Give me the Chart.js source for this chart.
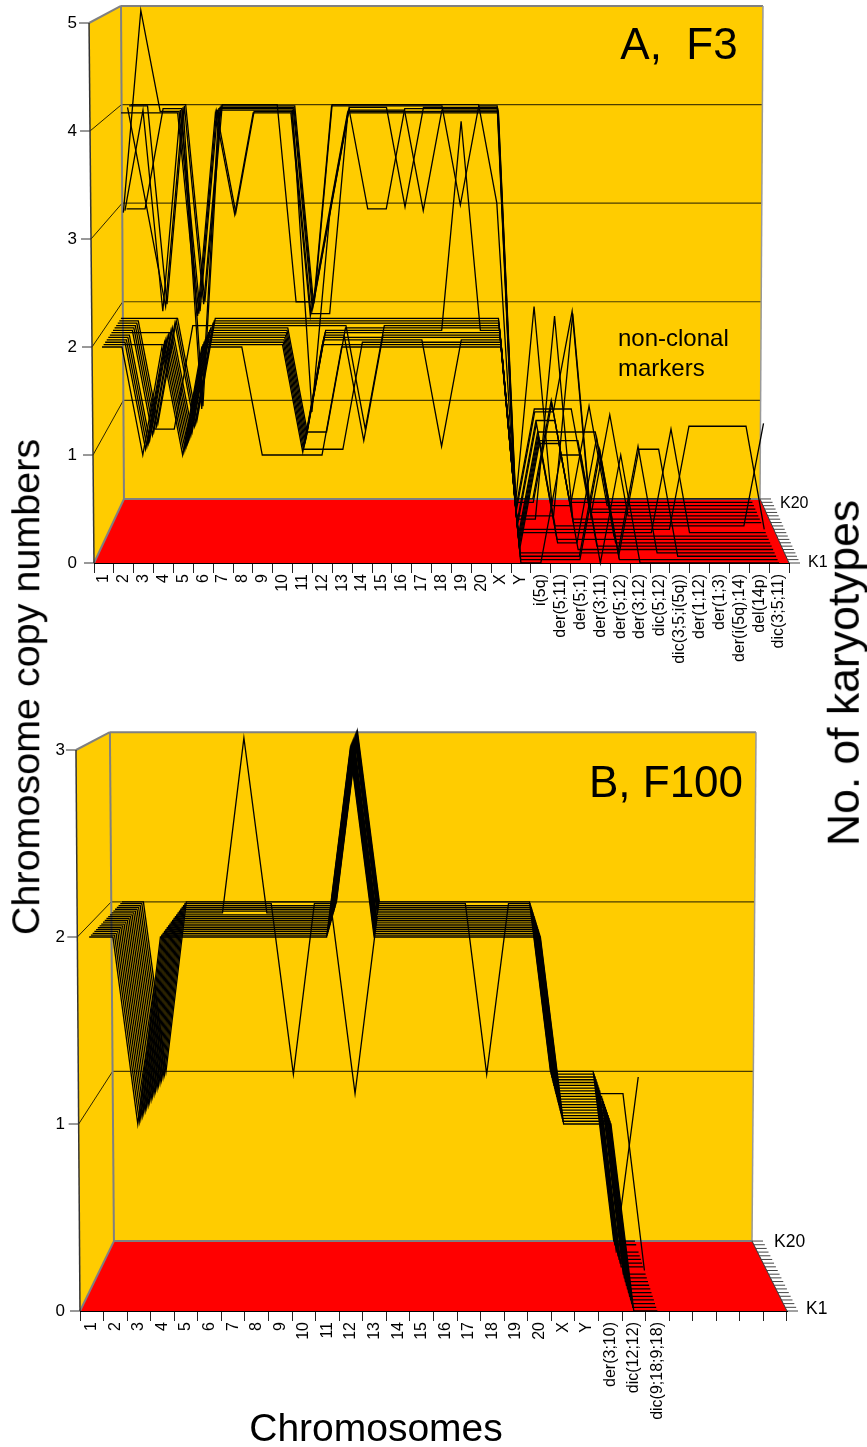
<!DOCTYPE html>
<html>
<head>
<meta charset="utf-8">
<script src="https://cdn.jsdelivr.net/npm/chart.js@4/dist/chart.umd.min.js"></script>
<style>
html,body{margin:0;padding:0;background:#fff;width:867px;height:1447px;overflow:hidden}
canvas{position:absolute;left:0}
.t{position:absolute;font-family:"Liberation Sans",Arial,sans-serif;color:#000;white-space:pre;line-height:1}
.r{transform:translate(-50%,-50%) rotate(-90deg)}
.c{transform:translate(-50%,-50%)}
</style>
</head>
<body>
<canvas id="a" width="867" height="700" style="top:0"></canvas>
<canvas id="b" width="867" height="747" style="top:700px"></canvas>
<div class="t r" style="left:26px;top:687px;font-size:39.5px">Chromosome copy numbers</div>
<div class="t r" style="left:844px;top:673px;font-size:44.5px">No. of karyotypes</div>
<div class="t c" style="left:376px;top:1427px;font-size:39px">Chromosomes</div>
<div class="t c" style="left:679px;top:44px;font-size:44px">A,  F3</div>
<div class="t c" style="left:666px;top:782px;font-size:44px">B, F100</div>
<div class="t" style="left:618px;top:326px;font-size:24px">non-clonal</div>
<div class="t" style="left:618px;top:356px;font-size:24px">markers</div>
<div class="t" style="left:780px;top:495px;font-size:16px">K20</div>
<div class="t" style="left:808px;top:554px;font-size:16px">K1</div>
<div class="t" style="left:774px;top:1233px;font-size:17.5px">K20</div>
<div class="t" style="left:806px;top:1300px;font-size:17.5px">K1</div>
<script>
const karyotypes = ['K1','K2','K3','K4','K5','K6','K7','K8','K9','K10','K11','K12','K13','K14','K15','K16','K17','K18','K19','K20'];
const yTicksA = [0,1,2,3,4,5];
const yTicksB = [0,1,2,3];
const categoriesA = ['1','2','3','4','5','6','7','8','9','10','11','12','13','14','15','16','17','18','19','20','X','Y',
  'i(5q)','der(5;11)','der(5;1)','der(3;11)','der(5;12)','der(3;12)','dic(5;12)','dic(3;5;i(5q))','der(1;12)','der(1;3)','der(i(5q);14)','del(14p)','dic(3;5;11)'];
const categoriesB = ['1','2','3','4','5','6','7','8','9','10','11','12','13','14','15','16','17','18','19','20','X','Y',
  'der(3;10)','dic(12;12)','dic(9;18;9;18)','','','','',''];

// Panel A, F3: chromosome copy numbers per karyotype
const A_K1  = [2,2,1,2,1,2,2,2,1,1,1,1,2,2,2,2,2,2,2,2,2,0, 0,1,1,0,1,0,0,0,0,0,0,0,0];
const A_K2  = [2,2,2,2,1,2,2,2,2,2,1,2,2,2,2,2,2,2,2,2,2,0, 0,0,0,1,0,0,0,0,0,0,0,0,0];
const A_K3  = [2,2,1,2,1,2,2,2,2,2,1,1,1,2,2,2,2,2,2,2,2,0, 0,0,0,1,0,1,1,0,0,0,0,0,0];
const A_K4  = [2,2,1,2,1,2,2,2,2,2,1,2,2,2,2,2,2,1,2,2,2,0, 0,0,0,0,0,1,0,0,0,0,0,0,0];
const A_K5  = [2,2,1,2,1,2,2,2,2,2,1,2,2,2,2,2,2,2,2,2,2,0, 1,1,0,0,0,0,0,0,0,0,0,0,0];
const A_K6  = [2,2,1,2,1,2,2,2,2,2,1,2,2,1,2,2,2,2,2,2,2,0, 1,1,1,0,0,0,0,0,0,0,0,0,0];
const A_K7  = [2,2,2,2,1,2,2,2,2,2,1,2,2,2,2,2,2,2,2,2,2,0, 1,0,0,1,0,0,0,0,0,0,0,0,0];
const A_K8  = [2,2,1,2,1,2,2,2,2,2,1,2,2,2,2,2,2,2,4,2,2,0, 1,0,0,0,0,0,0,0,0,0,0,0,0];
const A_K9  = [2,2,1,2,1,2,2,2,2,2,1,1,2,2,2,2,2,2,2,2,2,0, 1,1,1,1,0,0,0,0,0,0,0,0,0];
const A_K10 = [2,2,1,1,2,2,2,2,2,2,2,2,2,1,2,2,2,2,2,2,2,0, 0,0,0,0,0,0,0,1,0,0,0,0,0];
const A_K11 = [2,2,1,2,1,2,2,2,2,2,2,2,2,2,2,2,2,2,2,2,2,0, 0,0,0,0,0,0,0,0,1,1,1,1,0];
const A_K12 = [2,2,1,2,1,2,2,2,2,2,2,2,2,2,2,2,2,2,2,2,2,0, 1,0,0,0,0,0,0,0,0,0,0,0,1];
const A_K13 = [2,2,2,2,1,2,2,2,2,2,2,2,2,2,2,2,2,2,2,2,2,0, 1,1,0,0,0,0,0,0,0,0,0,0,0];
const A_K14 = [4,4,4,4,2,4,3,4,4,4,2,3,4,4,4,4,4,4,4,4,4,0, 0,2,0,0,0,0,0,0,0,0,0,0,0];
const A_K15 = [3,5,4,4,2,4,3,4,4,4,2,2,4,4,4,4,4,4,4,4,4,0, 0,0,2,0,1,0,0,0,0,0,0,0,0];
const A_K16 = [3,4,2,4,2,4,4,4,4,4,1,3,4,4,4,4,3,4,4,4,4,0, 1,1,2,0,0,0,0,0,0,0,0,0,0];
const A_K17 = [3,3,4,4,1,4,4,4,4,4,2,3,4,3,3,4,4,4,4,4,4,0, 1,1,1,0,0,0,0,0,0,0,0,0,0];
const A_K18 = [4,3,2,4,1,4,4,4,4,4,2,3,4,4,4,3,4,4,4,4,4,0, 2,0,0,1,0,0,0,0,0,0,0,0,0];
const A_K19 = [4,4,2,4,2,4,4,4,4,4,2,4,4,4,4,4,4,4,3,4,4,0, 0,1,0,0,0,0,0,0,0,0,0,0,0];
const A_K20 = [4,4,4,4,2,4,4,4,4,2,2,4,4,4,4,4,4,4,4,4,3,0, 0,1,0,0,0,0,0,0,0,0,0,0,0];

// Panel B, F100
const B_K1  = [2,2,1,2,2,2,2,2,2,2,2,3,2,2,2,2,2,2,2,2,1,1,1,0,0];
const B_K2  = [2,2,1,2,2,2,2,2,2,2,2,3,2,2,2,2,2,2,2,2,1,1,1,0,0];
const B_K3  = [2,2,1,2,2,2,2,2,2,2,2,3,2,2,2,2,2,2,2,2,1,1,1,0,0];
const B_K4  = [2,2,1,2,2,2,2,2,2,2,2,3,2,2,2,2,2,2,2,2,1,1,1,0,0];
const B_K5  = [2,2,1,2,2,2,2,2,2,2,2,3,2,2,2,2,2,2,2,2,1,1,1,0,0];
const B_K6  = [2,2,1,2,2,2,2,2,2,2,2,3,2,2,2,2,2,2,2,2,1,1,1,0,0];
const B_K7  = [2,2,1,2,2,2,2,2,2,2,2,3,2,2,2,2,2,2,2,2,1,1,1,0,0];
const B_K8  = [2,2,1,2,2,2,2,2,2,2,2,3,2,2,2,2,2,2,2,2,1,1,1,0,0];
const B_K9  = [2,2,1,2,2,2,2,2,2,2,2,3,2,2,2,2,2,2,2,2,1,1,1,0,0];
const B_K10 = [2,2,1,2,2,2,2,2,2,2,2,3,2,2,2,2,2,2,2,2,1,1,1,0,0];
const B_K11 = [2,2,1,2,2,2,2,2,2,2,2,3,2,2,2,2,2,2,2,2,1,1,1,0,0];
const B_K12 = [2,2,1,2,2,2,2,2,2,2,2,1,2,2,2,2,2,2,2,2,1,1,1,1,0];
const B_K13 = [2,2,1,2,2,2,2,2,2,2,2,3,2,2,2,2,2,2,2,2,1,1,1,0,0];
const B_K14 = [2,2,1,2,2,2,3,2,2,2,2,3,2,2,2,2,2,2,2,2,1,1,1,0,0];
const B_K15 = [2,2,1,2,2,2,2,2,2,2,2,3,2,2,2,2,2,2,2,2,1,1,1,0,0];
const B_K16 = [2,2,1,2,2,2,2,2,2,2,2,3,2,2,2,2,2,2,2,2,1,1,1,0,0];
const B_K17 = [2,2,1,2,2,2,2,2,2,2,2,3,2,2,2,2,2,2,2,2,1,1,1,0,0];
const B_K18 = [2,2,1,2,2,2,2,2,2,2,2,3,2,2,2,2,2,2,2,2,1,1,1,0,1];
const B_K19 = [2,2,1,2,2,2,2,2,1,2,2,3,2,2,2,2,2,1,2,2,1,1,1,0,0];
const B_K20 = [2,2,1,2,2,2,2,2,2,2,2,3,2,2,2,2,2,2,2,2,1,1,1,0,0];

const seriesA = [A_K1,A_K2,A_K3,A_K4,A_K5,A_K6,A_K7,A_K8,A_K9,A_K10,A_K11,A_K12,A_K13,A_K14,A_K15,A_K16,A_K17,A_K18,A_K19,A_K20];
const seriesB = [B_K1,B_K2,B_K3,B_K4,B_K5,B_K6,B_K7,B_K8,B_K9,B_K10,B_K11,B_K12,B_K13,B_K14,B_K15,B_K16,B_K17,B_K18,B_K19,B_K20];

const FONT = '"Liberation Sans",Arial,sans-serif';
const lerp = (a,b,t)=>a+(b-a)*t;

// Oblique projection of (category, value, depth) onto the chart's own x / y scales.
function projector(n,p){
  return (c,v,t)=>{
    const l = lerp(-0.5-p.leanF*v, -0.5+p.dL-p.leanB*v, t);
    const r = lerp(n-0.5+p.leanF*v, n-0.5-p.dR+p.leanB*v, t);
    return {x:l+(c+0.5)/n*(r-l), y:lerp(v, p.dy0+p.backS*v, t)};
  };
}

function panel(id,cfg){
  const n = cfg.labels.length, project = projector(n,cfg.persp), top = cfg.yTicks[cfg.yTicks.length-1];
  const walls = {
    id:'walls',
    beforeDraw(ch){
      const g=ch.ctx, X=ch.scales.xd, Y=ch.scales.y;
      const pt=(c,v,t)=>{const q=project(c,v,t);return [X.getPixelForValue(q.x),Y.getPixelForValue(q.y)];};
      const L=-0.5, R=n-0.5;
      const poly=(pts,fill)=>{g.beginPath();pts.forEach((q,i)=>i?g.lineTo(q[0],q[1]):g.moveTo(q[0],q[1]));g.closePath();g.fillStyle=fill;g.fill();};
      const seg=(a,b,col,w)=>{g.beginPath();g.moveTo(a[0],a[1]);g.lineTo(b[0],b[1]);g.strokeStyle=col;g.lineWidth=w;g.stroke();};
      g.save();
      poly([pt(L,0,0),pt(L,top,0),pt(L,top,1),pt(L,0,1)],'#FFCC00');
      poly([pt(L,0,1),pt(L,top,1),pt(R,top,1),pt(R,0,1)],'#FFCC00');
      poly([pt(L,0,0),pt(L,0,1),pt(R,0,1),pt(R,0,0)],'#FF0000');
      cfg.yTicks.forEach(v=>{
        if(v>0&&v<top){
          seg(pt(L,v,0),pt(L,v,1),'#2b2300',1);
          seg(pt(L,v,1),pt(R,v,1),'#4a3c00',1.2);
        }
        const f=pt(L,v,0);
        seg([f[0]-10,f[1]],f,'#333',1);
      });
      seg(pt(L,0,1),pt(L,top,1),'#808080',2);
      seg(pt(L,top,1),pt(R,top,1),'#808080',2);
      seg(pt(R,top,1),pt(R,0,1),'#999',1.5);
      seg(pt(L,0,1),pt(R,0,1),'#808080',2);
      seg(pt(L,top,0),pt(L,top,1),'#808080',2);
      seg(pt(L,0,0),pt(L,0,1),'#808080',2);
      seg(pt(L,0,0),pt(L,top,0),'#333',1.5);
      seg(pt(R,0,0),pt(R,0,1),'#333',1);
      karyotypes.forEach((k,i)=>{const q=pt(R,0,i/(karyotypes.length-1));seg(q,[q[0]+11,q[1]],'#444',1);});
      g.restore();
    }
  };
  return new Chart(document.getElementById(id),{
    type:'line',
    data:{
      labels:cfg.labels,
      datasets:karyotypes.map((name,k)=>({
        label:name,
        xAxisID:'xd',
        data:cfg.series[k].map((v,i)=>project(i,v,k/(karyotypes.length-1))),
        borderColor:'#000',borderWidth:1.3,pointRadius:0,tension:0,fill:false,clip:false
      }))
    },
    options:{
      responsive:false,animation:false,
      layout:{padding:{left:0,top:0,bottom:0,right:cfg.padRight}},
      plugins:{legend:{display:false},tooltip:{enabled:false},title:{display:false}},
      scales:{
        xd:{type:'linear',axis:'x',display:false,min:-0.5,max:n-0.5},
        x:{type:'category',position:'bottom',offset:true,
          grid:{offset:true,drawOnChartArea:false,drawTicks:true,tickLength:10,color:'#222',tickColor:'#222'},
          border:{color:'#000',width:1},
          ticks:{autoSkip:false,minRotation:90,maxRotation:90,padding:1,color:'#000',font:{family:FONT,size:16}},
          afterFit(s){s.height=cfg.xHeight;s.paddingLeft=0;s.paddingRight=0;}
        },
        y:{type:'linear',position:'left',min:0,max:cfg.yMax,
          grid:{display:false},border:{display:false},
          afterBuildTicks(s){s.ticks=cfg.yTicks.map(v=>({value:v}));},
          ticks:{padding:cfg.yPad,color:'#000',font:{family:FONT,size:17},callback:v=>String(v)},
          afterFit(s){s.width=cfg.yWidth;s.paddingTop=0;s.paddingBottom=0;}
        }
      }
    },
    plugins:[walls]
  });
}

panel('a',{labels:categoriesA,series:seriesA,yTicks:yTicksA,yMax:563/108,yWidth:94,padRight:78,xHeight:137,yPad:9,
  persp:{leanF:0.05,leanB:0.03,dL:1.51,dR:1.46,dy0:0.593,backS:0.913}});
panel('b',{labels:categoriesB,series:seriesB,yTicks:yTicksB,yMax:611/187,yWidth:80,padRight:80,xHeight:136,yPad:7,
  persp:{leanF:0.057,leanB:0.057,dL:1.44,dR:1.485,dy0:0.374,backS:0.907}});
</script>
</body>
</html>
